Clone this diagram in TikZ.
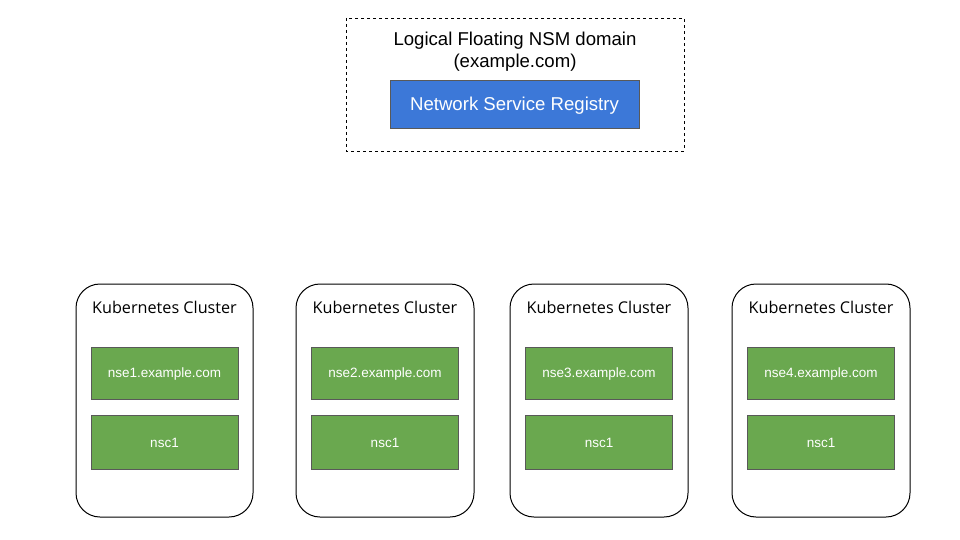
\documentclass[tikz,border=0pt]{standalone}
\usepackage{fontspec}
\setmainfont{Liberation Sans}
\newfontfamily\clfont{Open Sans}
\begin{document}
\begin{tikzpicture}[x=1pt,y=-1pt,
  domainbox/.style={draw=black, dashed, line width=0.8pt},
  regbox/.style={draw=black!65, fill=regblue, line width=0.8pt},
  cluster/.style={draw=black, rounded corners=24pt, line width=1pt},
  podbox/.style={draw=black!65, fill=podgreen, line width=0.8pt},
  podtext/.style={text=white, font=\fontsize{13.5}{15}\selectfont},
  cltitle/.style={font=\clfont\fontsize{16.2}{18}\selectfont},
]
\definecolor{regblue}{HTML}{3C78D8}
\definecolor{podgreen}{HTML}{6AA84F}
\useasboundingbox (0,0) rectangle (960,540);
\draw[domainbox] (346,18) rectangle (684,151);
\node[font=\fontsize{18.6}{22}\selectfont, align=center] (dtitle) at (515,52) {Logical Floating NSM domain\\(example.com)};
\draw[regbox] (390,80) rectangle (639,128);
\node[text=white, font=\fontsize{18.6}{22}\selectfont] (reg) at (514.5,105.5) {Network Service Registry};
\foreach \i/\l/\r in {1/76/253, 2/296/474, 3/510/688, 4/732/910}{
  \draw[cluster] (\l,284) rectangle (\r,517);
  \node[cltitle] (ct\i) at ({(\l+\r)/2},307) {Kubernetes Cluster};
  \draw[podbox] ({(\l+\r)/2-73.5},347) rectangle ({(\l+\r)/2+73.5},399);
  \node[podtext] (nse\i) at ({(\l+\r)/2},374) {nse\i.example.com};
  \draw[podbox] ({(\l+\r)/2-73.5},415) rectangle ({(\l+\r)/2+73.5},469);
  \node[podtext] (nsc\i) at ({(\l+\r)/2},443) {nsc1};
}
\end{tikzpicture}
\end{document}
